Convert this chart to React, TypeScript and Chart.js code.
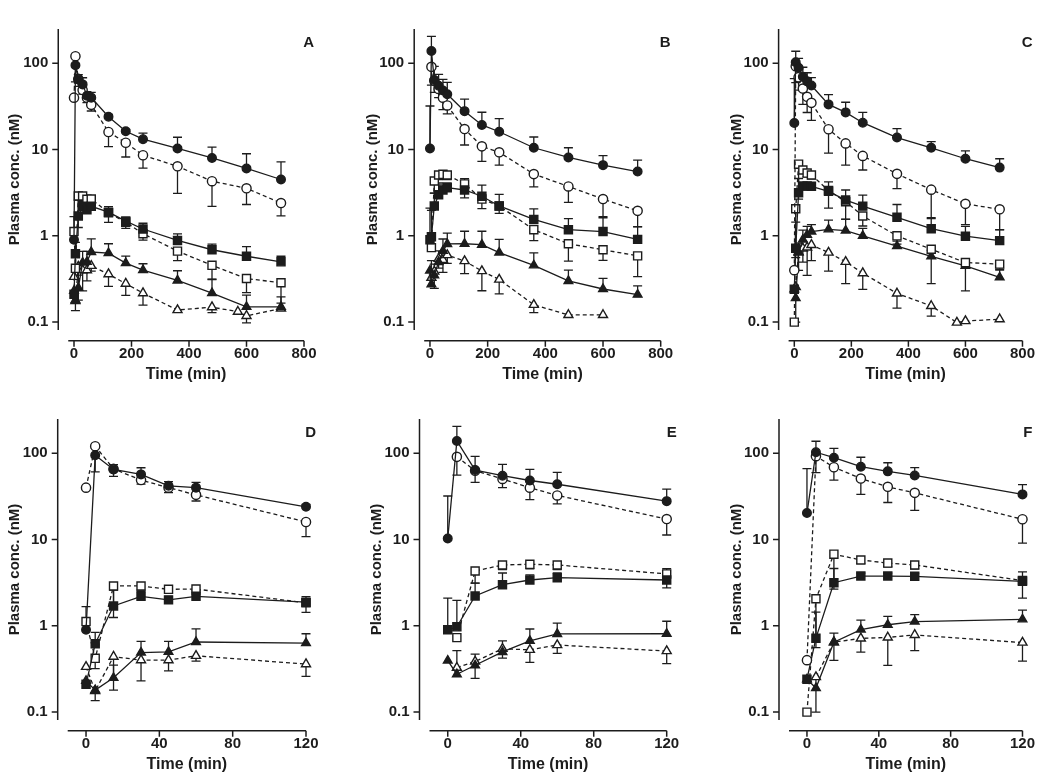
import React, { useEffect, useRef } from 'react';
import { Chart, registerables } from 'chart.js';

Chart.register(...registerables);

// ---------------- data ----------------
// Sampling times (min). 570 is only used by the open-triangle series of panels A and C.
const TIME = [0, 5, 15, 30, 45, 60, 120, 180, 240, 360, 480, 570, 600, 720];

// Group 1 (panels A and D)
const G1_CIRCLE_FILLED = [0.9, 95, 65, 57, 42, 40, 24, 16.3, 13.2, 10.3, 8.0, null, 6.05, 4.5];
const G1_CIRCLE_FILLED_SD = [0.77, 20, 9, 11, 5, 6, 1.5, 0.8, 2.3, 3.6, 2.7, null, 2.9, 2.7];
const G1_CIRCLE_OPEN = [40, 121, 66, 49, 40, 33, 16, 12.0, 8.6, 6.4, 4.3, null, 3.56, 2.4];
const G1_CIRCLE_OPEN_SD = [0, 60, 12, 5, 5, 5, 5.2, 3.8, 2.5, 3.3, 2.1, null, 1.25, 0.7];
const G1_SQUARE_FILLED = [0.21, 0.62, 1.7, 2.2, 2.0, 2.2, 1.88, 1.48, 1.2, 0.885, 0.69, null, 0.58, 0.5];
const G1_SQUARE_FILLED_SD = [0, 0.22, 0.9, 0.3, 0.1, 0.1, 0.3, 0.17, 0.2, 0.17, 0.11, null, 0.17, 0.08];
const G1_SQUARE_OPEN = [1.12, 0.42, 2.9, 2.9, 2.65, 2.67, 1.85, 1.44, 1.06, 0.665, 0.455, null, 0.32, 0.286];
const G1_SQUARE_OPEN_SD = [0, 0.1, 1.65, 0.3, 0.1, 0.1, 0.42, 0.22, 0.17, 0.15, 0.14, null, 0.1, 0.12];
const G1_TRIANGLE_FILLED = [0.23, 0.18, 0.25, 0.49, 0.5, 0.65, 0.63, 0.483, 0.4, 0.304, 0.217, null, 0.15, 0.15];
const G1_TRIANGLE_FILLED_SD = [0, 0, 0.1, 0.17, 0.16, 0.27, 0.18, 0.1, 0.075, 0.09, 0.095, null, 0.055, 0.046];
const G1_TRIANGLE_OPEN = [0.335, 0.176, 0.44, 0.4, 0.4, 0.45, 0.36, 0.279, 0.217, 0.138, 0.149, 0.132, 0.118, 0.144];
const G1_TRIANGLE_OPEN_SD = [0, 0.04, 0.26, 0.17, 0.1, 0.06, 0.1, 0.075, 0.06, 0.005, 0.02, 0, 0.02, 0.005];

// Group 2 (panels B and E)
const G2_CIRCLE_FILLED = [10.3, 139, 64, 55, 48.4, 43.8, 27.9, 19.3, 16.1, 10.5, 8.1, null, 6.6, 5.56];
const G2_CIRCLE_FILLED_SD = [21.7, 66, 28, 19.5, 16.6, 16.5, 10.6, 7.8, 6.8, 3.5, 2.4, null, 1.9, 2.0];
const G2_CIRCLE_OPEN = [null, 91, 63, 50.5, 40, 32.5, 17.3, 10.9, 9.3, 5.2, 3.74, null, 2.67, 1.95];
const G2_CIRCLE_OPEN_SD = [null, 35, 17, 10.5, 11, 6.5, 6, 3.6, 2.7, 1.5, 1.3, null, 1.0, 0.67];
const G2_SQUARE_FILLED = [0.9, 0.975, 2.22, 3.0, 3.4, 3.62, 3.4, 2.88, 2.22, 1.55, 1.18, null, 1.12, 0.91];
const G2_SQUARE_FILLED_SD = [1.2, 1.0, 0.9, 1.1, 0.5, 0.5, 1.2, 1.0, 0.8, 0.5, 0.4, null, 0.5, 0.36];
const G2_SQUARE_OPEN = [null, 0.73, 4.32, 5.08, 5.17, 5.08, 4.0, 2.67, 2.22, 1.18, 0.81, null, 0.69, 0.586];
const G2_SQUARE_OPEN_SD = [null, 0, 1.2, 0.6, 0.6, 0.6, 1.25, 0.6, 0.4, 0.3, 0.3, null, 0.17, 0.25];
const G2_TRIANGLE_FILLED = [0.396, 0.275, 0.349, 0.498, 0.669, 0.805, 0.81, 0.79, 0.64, 0.455, 0.3, null, 0.242, 0.208];
const G2_TRIANGLE_FILLED_SD = [0, 0.24, 0.12, 0.17, 0.25, 0.27, 0.32, 0.34, 0.27, 0.18, 0.1, null, 0.08, 0.055];
const G2_TRIANGLE_OPEN = [null, 0.327, 0.386, 0.542, 0.528, 0.6, 0.51, 0.391, 0.312, 0.159, 0.121, null, 0.121, null];
const G2_TRIANGLE_OPEN_SD = [null, 0, 0.14, 0.12, 0.15, 0.12, 0.145, 0.16, 0.1, 0.03, 0.005, null, 0, null];

// Group 3 (panels C and F)
const G3_CIRCLE_FILLED = [20.3, 103, 89, 70, 61.8, 55.4, 33.4, 27, 20.5, 13.8, 10.5, null, 7.83, 6.18];
const G3_CIRCLE_FILLED_SD = [46, 35, 25, 20, 16, 13, 10, 8.4, 6.5, 3.7, 1.9, null, 1.85, 1.65];
const G3_CIRCLE_OPEN = [0.4, 92.7, 69, 51, 40.9, 34.8, 17.2, 11.8, 8.45, 5.23, 3.43, null, 2.35, 2.03];
const G3_CIRCLE_OPEN_SD = [0, 33, 20, 17.6, 14, 13, 8.1, 5.2, 2.65, 1.7, 1.8, null, 1.0, 0.86];
const G3_SQUARE_FILLED = [0.241, 0.72, 3.16, 3.78, 3.78, 3.75, 3.28, 2.6, 2.21, 1.64, 1.21, null, 0.99, 0.88];
const G3_SQUARE_FILLED_SD = [0, 0.72, 1.46, 0.3, 0.3, 0.3, 0.95, 0.8, 0.75, 0.67, 0.37, null, 0.3, 0.3];
const G3_SQUARE_OPEN = [0.1, 2.06, 6.77, 5.8, 5.34, 5.08, 3.35, 2.49, 1.7, 1.0, 0.7, null, 0.49, 0.47];
const G3_SQUARE_OPEN_SD = [0, 1.5, 4.1, 0.5, 0.5, 0.5, 1.25, 0.93, 0.4, 0.2, 0.42, null, 0.26, 0.07];
const G3_TRIANGLE_FILLED = [0.24, 0.19, 0.645, 0.905, 1.03, 1.12, 1.19, 1.15, 1.0, 0.76, 0.58, null, 0.45, 0.33];
const G3_TRIANGLE_FILLED_SD = [0, 0, 0.18, 0.26, 0.26, 0.23, 0.33, 0.4, 0.22, 0.11, 0.1, null, 0.08, 0.08];
const G3_TRIANGLE_OPEN = [null, 0.255, 0.647, 0.716, 0.734, 0.785, 0.64, 0.5, 0.37, 0.215, 0.154, 0.099, 0.103, 0.108];
const G3_TRIANGLE_OPEN_SD = [null, 0.155, 0.25, 0.22, 0.385, 0.27, 0.25, 0.22, 0.13, 0.07, 0.037, 0, 0, 0];

const X_TICKS_LONG = [0, 200, 400, 600, 800];
const X_TICKS_SHORT = [0, 40, 80, 120];
const Y_TICKS = [0.1, 1, 10, 100];
const X_TITLE = 'Time (min)';
const Y_TITLE = 'Plasma conc. (nM)';

// ---------------- styling ----------------
const INK = '#1c1c1c';
const FONT = '"Liberation Sans", Arial, sans-serif';

const SERIES_STYLE = [
  { style: 'circle', filled: true, radius: 4.3 },
  { style: 'circle', filled: false, radius: 4.6 },
  { style: 'rect', filled: true, radius: 5.7 },
  { style: 'rect', filled: false, radius: 5.7 },
  { style: 'triangle', filled: true, radius: 5 },
  { style: 'triangle', filled: false, radius: 5.2 },
];

const GROUPS = [
  {
    values: [G1_CIRCLE_FILLED, G1_CIRCLE_OPEN, G1_SQUARE_FILLED, G1_SQUARE_OPEN, G1_TRIANGLE_FILLED, G1_TRIANGLE_OPEN],
    sds: [G1_CIRCLE_FILLED_SD, G1_CIRCLE_OPEN_SD, G1_SQUARE_FILLED_SD, G1_SQUARE_OPEN_SD, G1_TRIANGLE_FILLED_SD, G1_TRIANGLE_OPEN_SD],
  },
  {
    values: [G2_CIRCLE_FILLED, G2_CIRCLE_OPEN, G2_SQUARE_FILLED, G2_SQUARE_OPEN, G2_TRIANGLE_FILLED, G2_TRIANGLE_OPEN],
    sds: [G2_CIRCLE_FILLED_SD, G2_CIRCLE_OPEN_SD, G2_SQUARE_FILLED_SD, G2_SQUARE_OPEN_SD, G2_TRIANGLE_FILLED_SD, G2_TRIANGLE_OPEN_SD],
  },
  {
    values: [G3_CIRCLE_FILLED, G3_CIRCLE_OPEN, G3_SQUARE_FILLED, G3_SQUARE_OPEN, G3_TRIANGLE_FILLED, G3_TRIANGLE_OPEN],
    sds: [G3_CIRCLE_FILLED_SD, G3_CIRCLE_OPEN_SD, G3_SQUARE_FILLED_SD, G3_SQUARE_OPEN_SD, G3_TRIANGLE_FILLED_SD, G3_TRIANGLE_OPEN_SD],
  },
];

const PANELS = [
  { letter: 'A', group: 0, xMin: -20, xMax: 800, xTicks: X_TICKS_LONG, left: 0, top: 0, width: 350, height: 390, yW: 68.25, padR: 46, padT: 12.7, xH: 60, tPad: 5.9 },
  { letter: 'B', group: 1, xMin: -20, xMax: 800, xTicks: X_TICKS_LONG, left: 358, top: 0, width: 350, height: 390, yW: 66.2, padR: 47.3, padT: 12.7, xH: 60, tPad: 5.9 },
  { letter: 'C', group: 2, xMin: -20, xMax: 800, xTicks: X_TICKS_LONG, left: 722, top: 0, width: 328, height: 390, yW: 66.6, padR: 26.7, padT: 12.7, xH: 60, tPad: 5.9 },
  { letter: 'D', group: 0, xMin: -10, xMax: 120, xTicks: X_TICKS_SHORT, left: 0, top: 390, width: 350, height: 392, yW: 67.7, padR: 44, padT: 12.7, xH: 62, tPad: 7.4 },
  { letter: 'E', group: 1, xMin: -10, xMax: 120, xTicks: X_TICKS_SHORT, left: 362, top: 390, width: 346, height: 392, yW: 67.5, padR: 41.3, padT: 12.7, xH: 62, tPad: 7.4 },
  { letter: 'F', group: 2, xMin: -10, xMax: 120, xTicks: X_TICKS_SHORT, left: 722, top: 390, width: 328, height: 392, yW: 67, padR: 23.3, padT: 12.7, xH: 62, tPad: 7.4 },
];

// ---------------- plugins ----------------
const errorBarPlugin = {
  id: 'errorBars',
  beforeDatasetsDraw(chart: any) {
    const { ctx, chartArea, scales } = chart;
    const x = scales.x;
    const y = scales.y;
    ctx.save();
    ctx.beginPath();
    ctx.rect(chartArea.left - 8, chartArea.top - 1, chartArea.right - chartArea.left + 16, chartArea.bottom - chartArea.top + 2);
    ctx.clip();
    ctx.strokeStyle = INK;
    ctx.lineWidth = 1.3;
    chart.data.datasets.forEach((ds: any) => {
      ds.data.forEach((p: any, i: number) => {
        const e = ds.errs[i];
        if (!e) return;
        const end = ds.errUp ? p.y + e : Math.max(p.y - e, 1e-4);
        const px = x.getPixelForValue(p.x);
        const py = y.getPixelForValue(p.y);
        const pe = y.getPixelForValue(end);
        ctx.beginPath();
        ctx.moveTo(px, py);
        ctx.lineTo(px, pe);
        ctx.moveTo(px - 4.5, pe);
        ctx.lineTo(px + 4.5, pe);
        ctx.stroke();
      });
    });
    ctx.restore();
  },
};

const axesPlugin = {
  id: 'prismAxes',
  afterDraw(chart: any, _args: any, opts: any) {
    const { ctx, chartArea, scales } = chart;
    const { left, right, top, bottom } = chartArea;
    const x = scales.x;
    const y = scales.y;
    const ax = left - 10;
    const ay = bottom + 10.7;
    ctx.save();
    ctx.strokeStyle = INK;
    ctx.lineWidth = 1.5;
    ctx.beginPath();
    ctx.moveTo(ax, top);
    ctx.lineTo(ax, bottom);
    y.ticks.forEach((t: any) => {
      const py = y.getPixelForValue(t.value);
      ctx.moveTo(ax - 6, py);
      ctx.lineTo(ax, py);
    });
    ctx.moveTo(left, ay);
    ctx.lineTo(right, ay);
    x.ticks.forEach((t: any) => {
      const px = x.getPixelForValue(t.value);
      ctx.moveTo(px, ay);
      ctx.lineTo(px, ay + 6);
    });
    ctx.stroke();
    ctx.fillStyle = INK;
    ctx.font = `bold 15px ${FONT}`;
    ctx.textAlign = 'right';
    ctx.textBaseline = 'middle';
    ctx.fillText(opts.letter, right + 10, top + 14);
    ctx.restore();
  },
};

function buildDatasets(groupIdx: number, xMax: number) {
  const g = GROUPS[groupIdx];
  return SERIES_STYLE.map((s, si) => {
    const vals = g.values[si];
    const sds = g.sds[si];
    const data: any[] = [];
    const errs: number[] = [];
    TIME.forEach((t, k) => {
      const v = vals[k];
      if (v == null || t > xMax) return;
      data.push({ x: t, y: v });
      errs.push((sds[k] as number) || 0);
    });
    return {
      data,
      errs,
      errUp: s.filled,
      showLine: true,
      fill: false,
      tension: 0,
      clip: 12,
      borderColor: INK,
      borderWidth: 1.3,
      borderDash: s.filled ? [] : [4, 3],
      pointStyle: s.style,
      pointRadius: s.radius,
      pointHoverRadius: s.radius,
      pointBackgroundColor: s.filled ? INK : '#ffffff',
      pointBorderColor: INK,
      pointBorderWidth: 1.4,
    };
  });
}

function Panel({ cfg }: { cfg: any }) {
  const ref = useRef<HTMLCanvasElement>(null);
  useEffect(() => {
    const tickFont = { family: FONT, size: 15, weight: 'bold' as const };
    const chart = new Chart(ref.current as HTMLCanvasElement, {
      type: 'scatter',
      data: { datasets: buildDatasets(cfg.group, cfg.xMax) as any },
      options: {
        responsive: false,
        animation: false,
        events: [],
        layout: { padding: { top: cfg.padT, left: 0, right: cfg.padR, bottom: 0 } },
        plugins: {
          legend: { display: false },
          tooltip: { enabled: false },
          prismAxes: { letter: cfg.letter },
        } as any,
        scales: {
          x: {
            type: 'linear',
            min: cfg.xMin,
            max: cfg.xMax,
            afterBuildTicks: (s: any) => {
              s.ticks = cfg.xTicks.map((v: number) => ({ value: v }));
            },
            afterFit: (s: any) => {
              s.height = cfg.xH;
            },
            grid: { display: false, drawTicks: false },
            border: { display: false },
            ticks: {
              padding: 15,
              autoSkip: false,
              maxRotation: 0,
              color: INK,
              font: tickFont,
              callback: (v: any) => String(v),
            },
            title: {
              display: true,
              text: X_TITLE,
              color: INK,
              font: { family: FONT, size: 16, weight: 'bold' },
              padding: { top: 0, bottom: cfg.tPad },
            },
          },
          y: {
            type: 'logarithmic',
            min: 0.081,
            max: 250,
            afterBuildTicks: (s: any) => {
              s.ticks = Y_TICKS.map((v) => ({ value: v }));
            },
            afterFit: (s: any) => {
              s.width = cfg.yW;
            },
            grid: { display: false, drawTicks: false },
            border: { display: false },
            ticks: {
              padding: 20,
              autoSkip: false,
              color: INK,
              font: tickFont,
              callback: (v: any) => String(v),
            },
            title: {
              display: true,
              text: Y_TITLE,
              color: INK,
              font: { family: FONT, size: 15, weight: 'bold' },
              padding: { top: 6, bottom: 0 },
            },
          },
        },
      } as any,
      plugins: [errorBarPlugin, axesPlugin],
    });
    return () => chart.destroy();
  }, []);
  return (
    <canvas
      ref={ref}
      width={cfg.width}
      height={cfg.height}
      style={{ position: 'absolute', left: cfg.left, top: cfg.top, width: cfg.width, height: cfg.height }}
    />
  );
}

export default function App() {
  return (
    <div style={{ position: 'absolute', left: 0, top: 0, width: 1050, height: 782, overflow: 'hidden', background: '#ffffff' }}>
      {PANELS.map((p) => (
        <Panel key={p.letter} cfg={p} />
      ))}
    </div>
  );
}
